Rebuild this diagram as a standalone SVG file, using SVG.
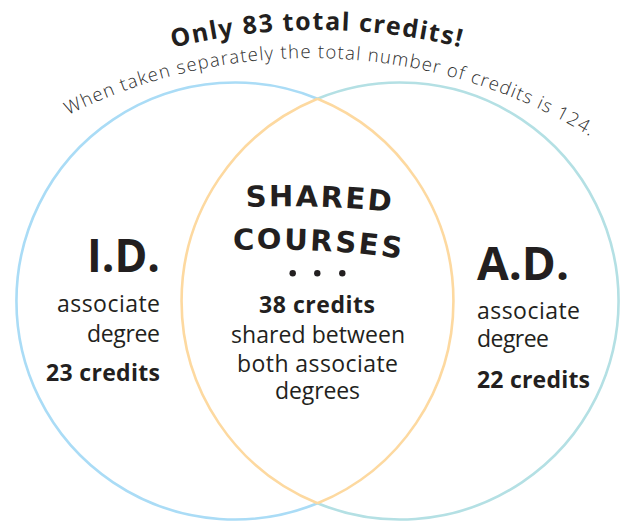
<svg xmlns="http://www.w3.org/2000/svg" width="624" height="523" viewBox="0 0 624 523">
<style>
.arc{fill:none;stroke-width:2.6}
.blue{stroke:#aadcf6}
.teal{stroke:#b4e0e4}
.orange{stroke:#fdd9a0}
.t{font-family:"Open Sans","Liberation Sans",sans-serif;fill:#231f20}
.reg{font-size:23px;font-weight:400}
.bold{font-size:23px;font-weight:700}
.big{font-size:47px;font-weight:700}
.cap{font-family:"DejaVu Sans","Open Sans",sans-serif;font-size:29px;font-weight:700}
.title{font-family:"Noto Sans","DejaVu Sans",sans-serif;font-size:25px;font-weight:700;fill:#231f20}
.sub{font-family:"Open Sans","Lato",sans-serif;font-size:18.5px;font-weight:300;fill:#2e2e2e}
.dot{fill:#231f20}
</style>
<defs>
<path id="titlePath" d="M172.8,47.8 A600,600 0 0 1 523.2,66.2"/>
<path id="subPath" d="M68,115.3 A540,540 0 0 1 619.7,155.7"/>
<path id="sharedPath" d="M246,207 Q320,204 393,212"/>
<path id="coursesPath" d="M233,250 Q325,247 403,259"/>
</defs>
<rect width="624" height="523" fill="#ffffff"/>
<g id="connectors">
<path class="arc blue" d="M317.5,98.7 A218.5,218.5 0 1 0 317.5,503.3"/>
<path class="arc teal" d="M317.5,98.7 A218.5,218.5 0 1 1 317.5,503.3"/>
<path class="arc orange" d="M317.5,98.7 A218.5,218.5 0 0 1 317.5,503.3"/>
<path class="arc orange" d="M317.5,98.7 A218.5,218.5 0 0 0 317.5,503.3"/>
</g>
<g id="header">
<text class="title"><textPath href="#titlePath" textLength="290" lengthAdjust="spacing">Only 83 total credits!</textPath></text>
<text class="sub"><textPath href="#subPath" textLength="545" lengthAdjust="spacing">When taken separately the total number of credits is 124.</textPath></text>
</g>
<g id="node-id">
<text class="t big" x="160" y="272" text-anchor="end" textLength="73" lengthAdjust="spacingAndGlyphs">I.D.</text>
<text class="t reg" x="160" y="312" text-anchor="end" textLength="103" lengthAdjust="spacing">associate</text>
<text class="t reg" x="160" y="342" text-anchor="end" textLength="73" lengthAdjust="spacing">degree</text>
<text class="t bold" x="160" y="381" text-anchor="end" textLength="114" lengthAdjust="spacing">23 credits</text>
</g>
<g id="node-shared">
<text class="t cap"><textPath href="#sharedPath" textLength="145" lengthAdjust="spacing">SHARED</textPath></text>
<text class="t cap"><textPath href="#coursesPath" textLength="168" lengthAdjust="spacing">COURSES</textPath></text>
<circle class="dot" cx="292.7" cy="273.3" r="3.2"/>
<circle class="dot" cx="317.3" cy="273.3" r="3.2"/>
<circle class="dot" cx="342.3" cy="273.3" r="3.2"/>
<text class="t bold" x="317" y="313" text-anchor="middle" textLength="116" lengthAdjust="spacing">38 credits</text>
<text class="t reg" x="318" y="343" text-anchor="middle" textLength="174" lengthAdjust="spacing">shared between</text>
<text class="t reg" x="317.5" y="372" text-anchor="middle" textLength="161" lengthAdjust="spacing">both associate</text>
<text class="t reg" x="317.5" y="399" text-anchor="middle" textLength="85" lengthAdjust="spacing">degrees</text>
</g>
<g id="node-ad">
<text class="t big" x="477" y="280" textLength="92" lengthAdjust="spacingAndGlyphs">A.D.</text>
<text class="t reg" x="477" y="319" textLength="103" lengthAdjust="spacing">associate</text>
<text class="t reg" x="477" y="347" textLength="72" lengthAdjust="spacing">degree</text>
<text class="t bold" x="477" y="388" textLength="113" lengthAdjust="spacing">22 credits</text>
</g>
</svg>
